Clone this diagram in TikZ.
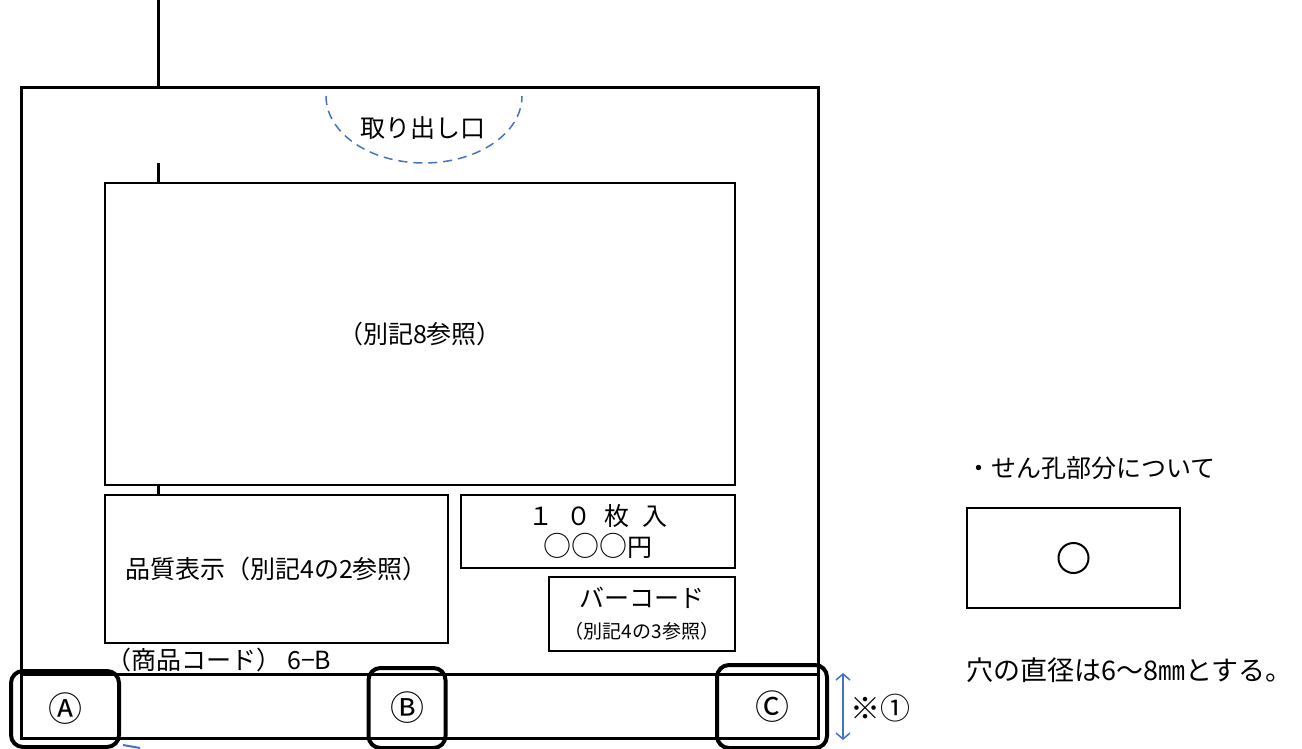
\documentclass[tikz,border=0pt]{standalone}
\usepackage{fontspec}
\setmainfont{Noto Sans CJK JP}
\usepackage{tikz}
\usetikzlibrary{arrows.meta}
\definecolor{lineblue}{RGB}{68,114,196}

\begin{document}
\begin{tikzpicture}[x=1pt,y=-1pt,
    txt/.style={font=\fontsize{25}{30}\selectfont, inner sep=0pt},
    panel/.style={draw, line width=1.5pt, inner sep=0pt, font=\fontsize{25}{30}\selectfont},
    marker/.style={draw, line width=4pt, rounded corners=12pt, inner sep=0pt, font=\fontsize{34}{40}\selectfont},
    outline/.style={line width=3pt}]
    \useasboundingbox (0,0) rectangle (1302,749);

    \draw[outline] (21,88) rectangle (818,738);
    \draw[outline] (21,674) -- (818,674);
    \draw[outline] (158,0) -- (158,88);
    \draw[outline] (158,163) -- (158,183);
    \draw[outline] (158,485) -- (158,495);

    \draw[lineblue, line width=1.5pt, dash pattern=on 9pt off 6pt]
        (326,96) arc[start angle=180, end angle=0, x radius=98, y radius=67];
    \node[txt] (toridashi) at (423,128) {取り出し口};

    \node[panel, minimum width=630, minimum height=302] (bekki) at (420,334) {（別記8参照）};
    \node[panel, minimum width=343, minimum height=148] (hinshitsu) at (276.5,569) {品質表示（別記4の2参照）};
    \node[panel, minimum width=274, minimum height=73, align=center] (kakaku) at (598,531.5)
        {１\hspace{13pt}０\hspace{13pt}枚\hspace{13pt}入\\[1pt]{\fontsize{28}{30}\selectfont ○○○}円};
    \node[panel, minimum width=186, minimum height=74, align=center] (barcode) at (642,614)
        {バーコード\\[1pt]{\fontsize{19}{22}\selectfont（別記4の3参照）}};
    \node[txt, anchor=west] (shohin) at (106,660) {（商品コード）\hspace{6pt}6−B};

    \node[marker, minimum width=108, minimum height=76] (markA) at (65,709) {Ⓐ};
    \node[marker, minimum width=77, minimum height=80] (markB) at (407,708) {Ⓑ};
    \node[marker, minimum width=110, minimum height=83] (markC) at (772,706.5) {Ⓒ};

    \coordinate (hTop) at (843,673);
    \coordinate (hBot) at (843,740);
    \draw[lineblue, line width=1.5pt, {Straight Barb[length=6pt,width=14pt]}-{Straight Barb[length=6pt,width=14pt]}] (hTop) -- (hBot);
    \node[txt, font=\fontsize{30}{34}\selectfont] (kome) at (880,708) {※①};
    \draw[lineblue, line width=2pt] (123,745) -- (140,748);

    \node[txt, anchor=west] (senkou) at (966,468) {・せん孔部分について};
    \node[draw, line width=2pt, minimum width=213, minimum height=100] (holebox) at (1073.5,558) {};
    \node[draw, circle, line width=2pt, minimum size=30, inner sep=0pt] (ana) at (holebox.center) {};
    \node[txt, anchor=west, font=\fontsize{27}{30}\selectfont] (chokkei) at (966,670) {穴の直径は6〜8㎜とする。};
\end{tikzpicture}
\end{document}
